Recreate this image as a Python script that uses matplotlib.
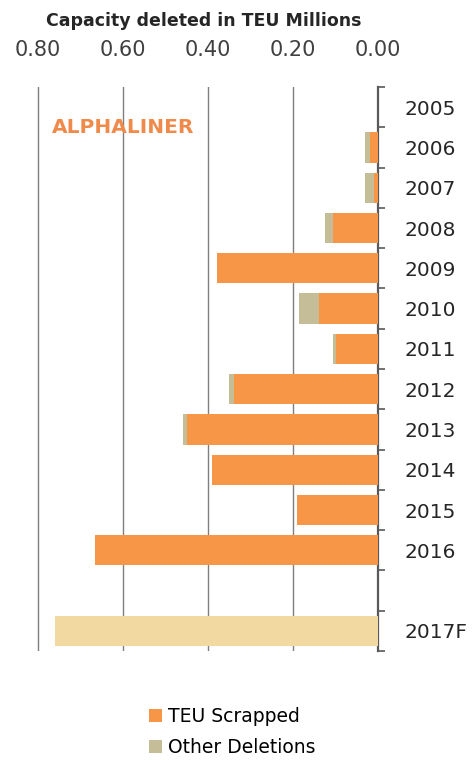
import numpy as np
import matplotlib.pyplot as plt

plt.rcParams['font.family'] = ['DejaVu Sans']

# data (TEU millions)
years = ['2005', '2006', '2007', '2008', '2009', '2010', '2011', '2012',
         '2013', '2014', '2015', '2016', '', '2017F']
scrapped = [0.0, 0.02, 0.01, 0.105, 0.38, 0.14, 0.10, 0.34,
            0.45, 0.39, 0.19, 0.665, 0.0, 0.0]
other = [0.0, 0.01, 0.02, 0.02, 0.0, 0.045, 0.005, 0.01,
         0.01, 0.0, 0.0, 0.0, 0.0, 0.0]
forecast = [0.0] * 13 + [0.76]

xticks = [0.80, 0.60, 0.40, 0.20, 0.00]

ORANGE = '#F79646'
TAN = '#C4BD97'
WHEAT = '#F2D9A2'

fig = plt.figure(figsize=(4.73, 7.6), dpi=100)
ax = fig.add_axes([0.0624, 0.1434, 0.7369, 0.7421])

y = np.arange(len(years))
ax.barh(y, scrapped, height=0.75, color=ORANGE, zorder=3, label='TEU Scrapped')
ax.barh(y, other, left=scrapped, height=0.75, color=TAN, zorder=3,
        label='Other Deletions')
ax.barh(y, forecast, height=0.75, color=WHEAT, zorder=3)

ax.set_xlim(0.82, 0.0)
ax.set_ylim(len(years) - 0.5, -0.5)

ax.xaxis.tick_top()
ax.set_xticks(xticks)
ax.set_xticklabels(['%.2f' % v for v in xticks], fontsize=15, color='#404040')
ax.tick_params(axis='x', length=0, pad=19.5)
ax.set_xlabel('Capacity deleted in TEU Millions', fontsize=12.5,
              fontweight='bold', color='#262626', labelpad=10)
ax.xaxis.set_label_position('top')

ax.yaxis.tick_right()
ax.set_yticks(y)
ax.set_yticklabels(years, fontsize=14.5, color='#262626')
ax.tick_params(axis='y', which='major', length=0, pad=19)
ax.set_yticks(np.arange(len(years) + 1) - 0.5, minor=True)
ax.tick_params(axis='y', which='minor', length=5, width=1.2,
               color='#595959', direction='out')

for s in ['left', 'top', 'bottom']:
    ax.spines[s].set_visible(False)
ax.spines['right'].set_color('#595959')
ax.spines['right'].set_linewidth(1.6)

ax.grid(axis='x', color='#7F7F7F', linewidth=1.0, zorder=0)
ax.set_axisbelow(True)

ax.text(0.767, 0.5, 'ALPHALINER', color='#F08A4B', fontsize=14.5,
        fontweight='bold', va='center', ha='left', zorder=4)

fig.legend(*ax.get_legend_handles_labels(), loc='upper left',
           bbox_to_anchor=(0.295, 0.082), frameon=False, fontsize=13.5,
           handlelength=0.7, handleheight=0.7, handletextpad=0.3,
           labelspacing=0.65, borderpad=0)

fig.savefig('out.png', dpi=100, facecolor='white')
